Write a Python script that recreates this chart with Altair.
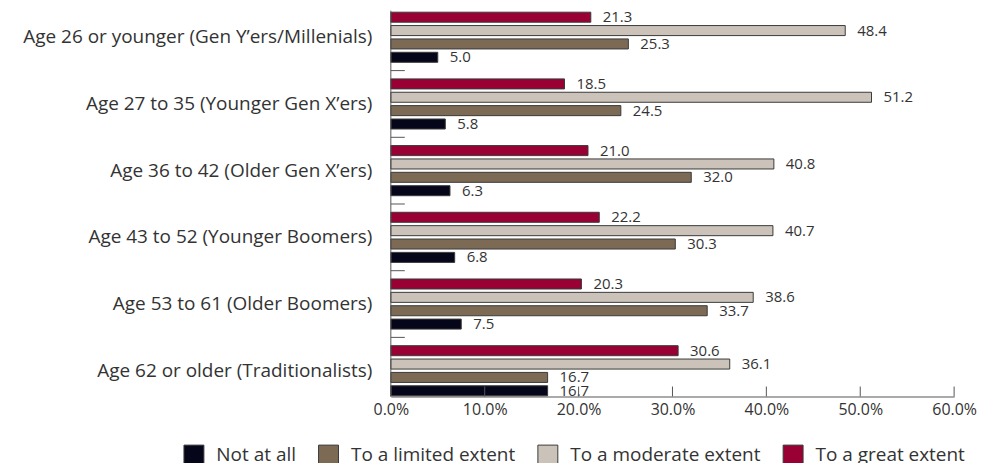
import altair as alt
import pandas as pd

categories = [
    "Age 26 or younger (Gen Y’ers/Millenials)",
    "Age 27 to 35 (Younger Gen X’ers)",
    "Age 36 to 42 (Older Gen X’ers)",
    "Age 43 to 52 (Younger Boomers)",
    "Age 53 to 61 (Older Boomers)",
    "Age 62 or older (Traditionalists)",
]
series = ["Not at all", "To a limited extent", "To a moderate extent", "To a great extent"]
not_at_all = [5.0, 5.8, 6.3, 6.8, 7.5, 16.7]
limited = [25.3, 24.5, 32.0, 30.3, 33.7, 16.7]
moderate = [48.4, 51.2, 40.8, 40.7, 38.6, 36.1]
great = [21.3, 18.5, 21.0, 22.2, 20.3, 30.6]
x_ticks = [0, 10, 20, 30, 40, 50, 60]
colors = ["#06061a", "#7c6a55", "#cbc3b9", "#990033"]

FONT = "Open Sans"
TXT = "#333333"
LINE = "#555555"

rows = []
for i, c in enumerate(categories):
    for s, vals in zip(series, [not_at_all, limited, moderate, great]):
        rows.append({"cat": c, "series": s, "value": vals[i]})
df = pd.DataFrame(rows)

within_order = series[::-1]

y_scale = alt.Scale(domain=categories, range=[-4.8, 396.6], paddingInner=0, paddingOuter=0)
y_axis = alt.Axis(title=None, domain=False, ticks=False, labelLimit=420, labelFontSize=19,
                  labelPadding=19, labelColor=TXT, labelFont=FONT)
x_scale = alt.Scale(domain=[0, 60], nice=False)
x_axis = alt.Axis(values=x_ticks, labelExpr="format(datum.value, '.1f') + '%'", title=None,
                  ticks=False, grid=False, domainColor=LINE, labelFont=FONT, labelFontSize=16,
                  labelColor=TXT, labelPadding=5, labelFlush=False)

y_enc = alt.Y("cat:N", scale=y_scale, sort=categories, axis=y_axis)
x_enc = alt.X("value:Q", scale=x_scale, axis=x_axis)
yoff_enc = alt.YOffset("series:N", scale=alt.Scale(domain=within_order, paddingInner=0.25, paddingOuter=0.62))

bars = alt.Chart(df).mark_bar(stroke="#3a3a3a", strokeWidth=1).encode(
    x=x_enc,
    y=y_enc,
    yOffset=yoff_enc,
    color=alt.Color(
        "series:N",
        scale=alt.Scale(domain=series, range=colors),
        legend=alt.Legend(
            title=None, orient="none", legendX=-208, legendY=437, direction="horizontal",
            symbolType="square", symbolSize=400, symbolStrokeColor="#3a3a3a", symbolStrokeWidth=1,
            labelFontSize=19, labelColor=TXT, labelFont=FONT, columnPadding=20, labelOffset=12,
            labelLimit=300, padding=0, symbolOpacity=1,
        ),
    ),
)

labels = alt.Chart(df).mark_text(align="left", baseline="middle", dx=12, fontSize=15, color=TXT, font=FONT).encode(
    x=x_enc,
    y=y_enc,
    yOffset=yoff_enc,
    text=alt.Text("value:Q", format=".1f"),
)

bounds = alt.Chart(pd.DataFrame({"cat": categories[:5]})).mark_rule(color=LINE, strokeWidth=1).encode(
    y=alt.Y("cat:N", scale=y_scale, sort=categories, axis=y_axis, bandPosition=1),
    x=alt.value(0),
    x2=alt.value(14),
)

xticks = alt.Chart(pd.DataFrame({"value": x_ticks})).mark_rule(color=LINE, strokeWidth=1).encode(
    x=x_enc,
    y=alt.value(379),
    y2=alt.value(389),
)

yline = alt.Chart(pd.DataFrame({"a": [0]})).mark_rule(color=LINE, strokeWidth=1).encode(
    x=alt.value(0),
    y=alt.value(2),
    y2=alt.value(389),
)

chart = alt.layer(bars, labels, bounds, xticks, yline).properties(
    width=565,
    height=389,
    autosize=alt.AutoSizeParams(type="none"),
    padding={"left": 384, "top": 0, "right": 40, "bottom": 66},
).configure_view(stroke=None)

chart.save("out.html", embed_options={"renderer": "svg", "actions": False})
